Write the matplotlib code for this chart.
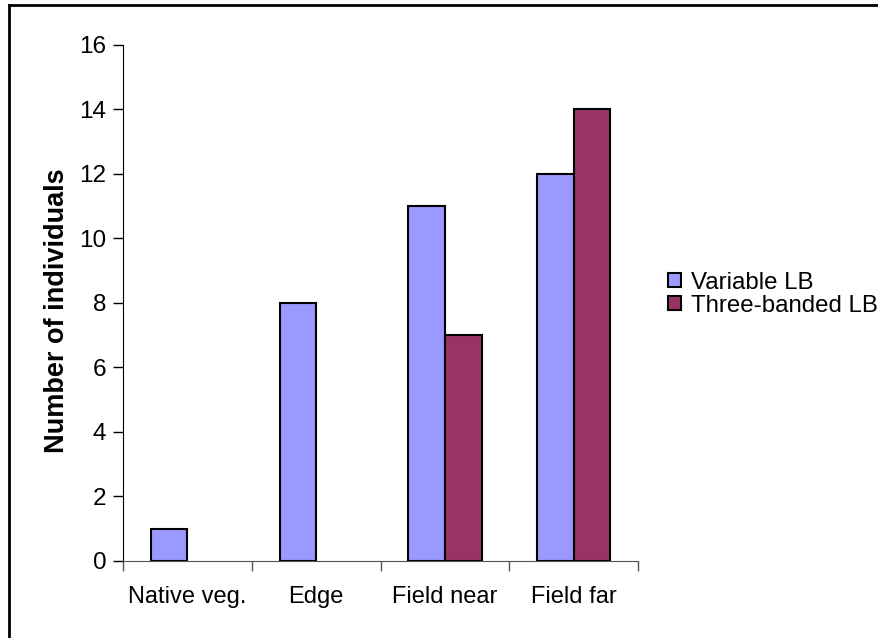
import matplotlib
matplotlib.use("Agg")
import matplotlib.pyplot as plt
from matplotlib.lines import Line2D
import numpy as np

# Datos (nan = sin barra)
categorias = ['Native veg.', 'Edge', 'Field near', 'Field far']
variable_lb = [1, 8, 11, 12]
three_banded_lb = [np.nan, np.nan, 7, 14]
series = ['Variable LB', 'Three-banded LB']
colores = ['#9999FF', '#993366']

plt.rcParams['font.family'] = ['Liberation Sans', 'DejaVu Sans']

fig = plt.figure(figsize=(8.79, 6.38), dpi=100)
ax = fig.add_axes([0.140, 0.1207, 0.586, 0.8088])

x = np.arange(len(categorias))
ancho = 0.285
ax.bar(x - ancho / 2, variable_lb, ancho, color=colores[0], edgecolor='black',
       linewidth=1.5, label=series[0])
ax.bar(x + ancho / 2, three_banded_lb, ancho, color=colores[1], edgecolor='black',
       linewidth=1.5, label=series[1])

ax.set_xlim(-0.5, len(categorias) - 0.5)
ax.set_ylim(0, 16)
ax.set_yticks(range(0, 17, 2))
ax.set_xticks(np.arange(-0.5, len(categorias), 1))
ax.set_xticklabels([])
ax.set_xticks(x, minor=True)
ax.set_xticklabels(categorias, minor=True)
ax.tick_params(axis='x', which='minor', length=0, pad=18, labelsize=17)
ax.tick_params(axis='x', which='major', length=7, width=1, direction='out', colors='#555555')
ax.tick_params(axis='y', length=7, width=1, direction='out', labelsize=17.5, pad=5)

for lado in ['top', 'right']:
    ax.spines[lado].set_visible(False)
ax.spines['left'].set_color('black')
ax.spines['bottom'].set_color('#555555')

ax.set_ylabel('Number of individuals', fontsize=19.5, fontweight='bold')
ax.yaxis.set_label_coords(-0.103, 0.4845)

fig.legend(loc='center left', bbox_to_anchor=(668 / 879, 0.539), frameon=False,
           fontsize=17.3, borderpad=0, borderaxespad=0,
           handlelength=0.55, handleheight=0.55, handletextpad=0.4, labelspacing=0.05)

# Bordes del marco (solo arriba e izquierda visibles)
fig.add_artist(Line2D([9 / 879, 9 / 879], [0, 1 - 4.5 / 638], transform=fig.transFigure,
                      color='black', linewidth=2))
fig.add_artist(Line2D([9 / 879, 1], [1 - 4.5 / 638, 1 - 4.5 / 638], transform=fig.transFigure,
                      color='black', linewidth=2))

fig.savefig('out.png', dpi=100)
